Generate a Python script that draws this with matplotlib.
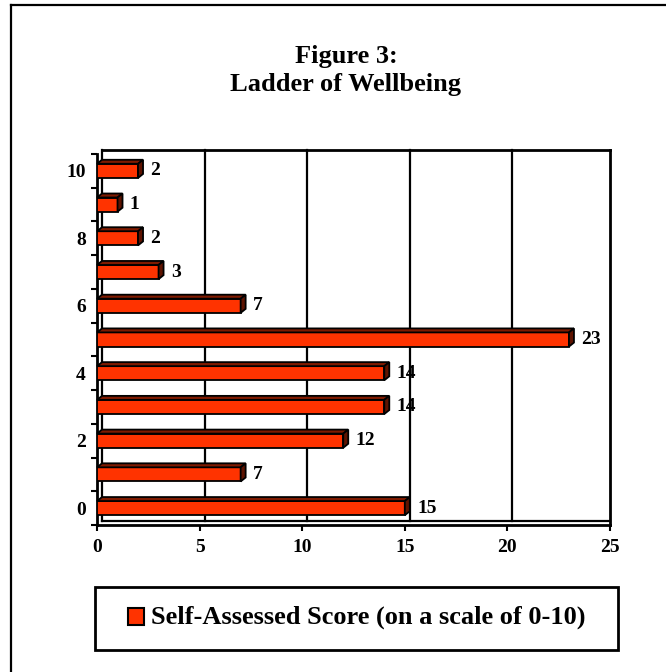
import matplotlib.pyplot as plt
import matplotlib.patches as mpatches
from matplotlib.lines import Line2D

# data
scores = [0, 1, 2, 3, 4, 5, 6, 7, 8, 9, 10]
counts = [15, 7, 12, 14, 14, 23, 7, 3, 2, 1, 2]
score_labels = [0, 2, 4, 6, 8, 10]
x_ticks = [0, 5, 10, 15, 20, 25]
title_lines = ["Figure 3:", "Ladder of Wellbeing"]
legend_label = "Self-Assessed Score (on a scale of 0-10)"

W, H = 666, 672
front = "#FF3300"
top_col = "#7F1A00"
side_col = "#5E1300"

plt.rcParams['font.family'] = ['Liberation Serif', 'DejaVu Serif']
plt.rcParams['font.weight'] = 'bold'

fig = plt.figure(figsize=(W / 100, H / 100), dpi=100)


def fx(px):
    return px / W


def fy(py):
    return 1 - py / H


# plot area (front plane) in pixels
left, right, top, bottom = 97, 610, 154, 525
ax = fig.add_axes([fx(left), fy(bottom), fx(right) - fx(left), fy(top) - fy(bottom)])
ax.set_xlim(0, 25)
ax.set_ylim(-0.5, 10.5)

# depth of the 3D effect in data units
dx = 5 / ((right - left) / 25)
dy = 4 / ((bottom - top) / 11)
h = 0.42

# back wall / floor lines and gridlines
for v in x_ticks[1:-1]:
    ax.plot([v + dx, v + dx], [-0.5 + dy, 10.5 + dy], color="black", lw=1.6, zorder=1, clip_on=False)
ax.plot([dx, dx], [-0.5 + dy, 10.5 + dy], color="black", lw=1.6, zorder=1, clip_on=False)
ax.plot([dx, 25], [-0.5 + dy, -0.5 + dy], color="black", lw=1.6, zorder=1, clip_on=False)
ax.plot([dx, 25], [10.5 + dy, 10.5 + dy], color="black", lw=2, zorder=1, clip_on=False)
ax.plot([25, 25], [-0.5, 10.5 + dy], color="black", lw=2, zorder=1, clip_on=False)

ax.barh(scores, counts, height=h, color=front, edgecolor="black", linewidth=1.3, zorder=3)
for s, c in zip(scores, counts):
    y0, y1 = s - h / 2, s + h / 2
    ax.add_patch(mpatches.Polygon([(0, y1), (c, y1), (c + dx, y1 + dy), (dx, y1 + dy)],
                                  closed=True, fc=top_col, ec="black", lw=1.3, zorder=3, clip_on=False))
    ax.add_patch(mpatches.Polygon([(c, y0), (c + dx, y0 + dy), (c + dx, y1 + dy), (c, y1)],
                                  closed=True, fc=side_col, ec="black", lw=1.3, zorder=3, clip_on=False))
    ax.text(c + 0.6, s, str(c), ha="left", va="center", fontsize=14, fontweight="bold")

for sp in ["top", "right"]:
    ax.spines[sp].set_visible(False)
for sp in ["left", "bottom"]:
    ax.spines[sp].set_linewidth(2)

ax.set_xticks(x_ticks)
ax.tick_params(axis="x", direction="out", length=4, width=1.5, pad=6, labelsize=14)
ax.set_yticks([s - 0.5 for s in scores] + [10.5])
ax.set_yticklabels([])
ax.tick_params(axis="y", which="major", direction="out", length=4, width=1.5)
ax.set_yticks(score_labels, minor=True)
ax.set_yticklabels([str(s) for s in score_labels], minor=True)
ax.tick_params(axis="y", which="minor", length=0, pad=8, labelsize=14)
for lab in ax.get_xticklabels() + ax.get_yticklabels(minor=True):
    lab.set_fontweight("bold")

# title
fig.text(fx(346), fy(57), title_lines[0], ha="center", va="center", fontsize=19, fontweight="bold")
fig.text(fx(346), fy(85), title_lines[1], ha="center", va="center", fontsize=19, fontweight="bold")

# legend box
fig.patches.append(mpatches.Rectangle((fx(95), fy(650)), fx(618) - fx(95), fy(587) - fy(650),
                                      transform=fig.transFigure, fill=False, ec="black", lw=2))
fig.patches.append(mpatches.Rectangle((fx(128), fy(625)), fx(144) - fx(128), fy(608) - fy(625),
                                      transform=fig.transFigure, fc=front, ec="black", lw=1.5))
fig.text(fx(151), fy(617), legend_label, ha="left", va="center", fontsize=19, fontweight="bold")

# outer frame (right and bottom edges fall outside the picture)
fig.lines.append(Line2D([fx(11), 1], [fy(5), fy(5)], transform=fig.transFigure, color="black", lw=1.6))
fig.lines.append(Line2D([fx(11), fx(11)], [fy(5), 0], transform=fig.transFigure, color="black", lw=1.6))

fig.savefig("out.png", dpi=100)
